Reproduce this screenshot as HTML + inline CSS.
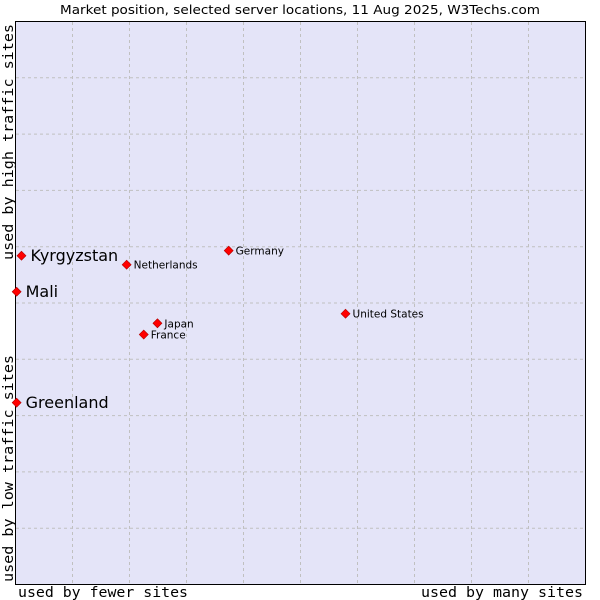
<!DOCTYPE html>
<html><head><meta charset="utf-8"><style>
body{margin:0;background:#fff;}
svg{display:block;}
</style></head><body>
<svg width="600" height="600" xmlns="http://www.w3.org/2000/svg">
<text x="60" y="14" textLength="480" lengthAdjust="spacingAndGlyphs" font-family="DejaVu Sans, sans-serif" font-size="12.5" fill="#000">Market position, selected server locations, 11 Aug 2025, W3Techs.com</text>
<rect x="15.5" y="21.5" width="570" height="563" fill="#e4e4f8" stroke="#000" stroke-width="1"/>
<g id="grid"></g>
<g id="marks"></g>
<text x="18" y="597" textLength="170" lengthAdjust="spacingAndGlyphs" font-family="DejaVu Sans Mono, monospace" font-size="14">used by fewer sites</text>
<text x="421" y="597" textLength="162" lengthAdjust="spacingAndGlyphs" font-family="DejaVu Sans Mono, monospace" font-size="14">used by many sites</text>
<text transform="translate(13,582) rotate(-90)" textLength="227" lengthAdjust="spacingAndGlyphs" font-family="DejaVu Sans Mono, monospace" font-size="14">used by low traffic sites</text>
<text transform="translate(13,260) rotate(-90)" textLength="236" lengthAdjust="spacingAndGlyphs" font-family="DejaVu Sans Mono, monospace" font-size="14">used by high traffic sites</text>
<script>
const names=["Kyrgyzstan","Mali","Greenland","Netherlands","Germany","United States","Japan","France"];
const xVals=[1.05,0.2,0.2,19.5,37.4,57.9,24.9,22.5];
const yVals=[58.4,52.0,32.3,56.8,59.3,48.1,46.4,44.4];
const bigLabel=[true,true,true,false,false,false,false,false];
const X0=15.5,W=570,Y0=584.5,H=563;
function sx(v){return X0+v/100*W;}
function sy(v){return Y0-v/100*H;}
const ns="http://www.w3.org/2000/svg";
const g=document.getElementById('grid');
for(let i=1;i<10;i++){
 const lv=document.createElementNS(ns,'line');
 
 
 const x=sx(i*10);
 lv.setAttribute('x1',x);lv.setAttribute('x2',x);lv.setAttribute('y1',22);lv.setAttribute('y2',584);
 lv.setAttribute('stroke','#c0c0c0');lv.setAttribute('stroke-dasharray','3,3');
 g.appendChild(lv);
 const lh=document.createElementNS(ns,'line');
 
 
 const y=sy(i*10);
 lh.setAttribute('y1',y);lh.setAttribute('y2',y);lh.setAttribute('x1',16);lh.setAttribute('x2',585);
 lh.setAttribute('stroke','#c0c0c0');lh.setAttribute('stroke-dasharray','3,3');
 g.appendChild(lh);
}
const m=document.getElementById('marks');
names.forEach((n,i)=>{
 const x=sx(xVals[i]),y=sy(yVals[i]);
 const p=document.createElementNS(ns,'polygon');
 
 
 p.setAttribute('points',`${x},${y-4.5} ${x+4.5},${y} ${x},${y+4.5} ${x-4.5},${y}`);
 p.setAttribute('fill','#ff0000');p.setAttribute('stroke','#b00000');p.setAttribute('stroke-width','0.6');
 m.appendChild(p);
 const t=document.createElementNS(ns,'text');
 
 
 t.setAttribute('x',x+(bigLabel[i]?9:7));
 t.setAttribute('y',y+(bigLabel[i]?5.5:4));
 t.setAttribute('font-family','DejaVu Sans, sans-serif');
 t.setAttribute('font-size',bigLabel[i]?'16':'10.5');
 t.textContent=n;
 m.appendChild(t);
});
</script>
</svg>
</body></html>
